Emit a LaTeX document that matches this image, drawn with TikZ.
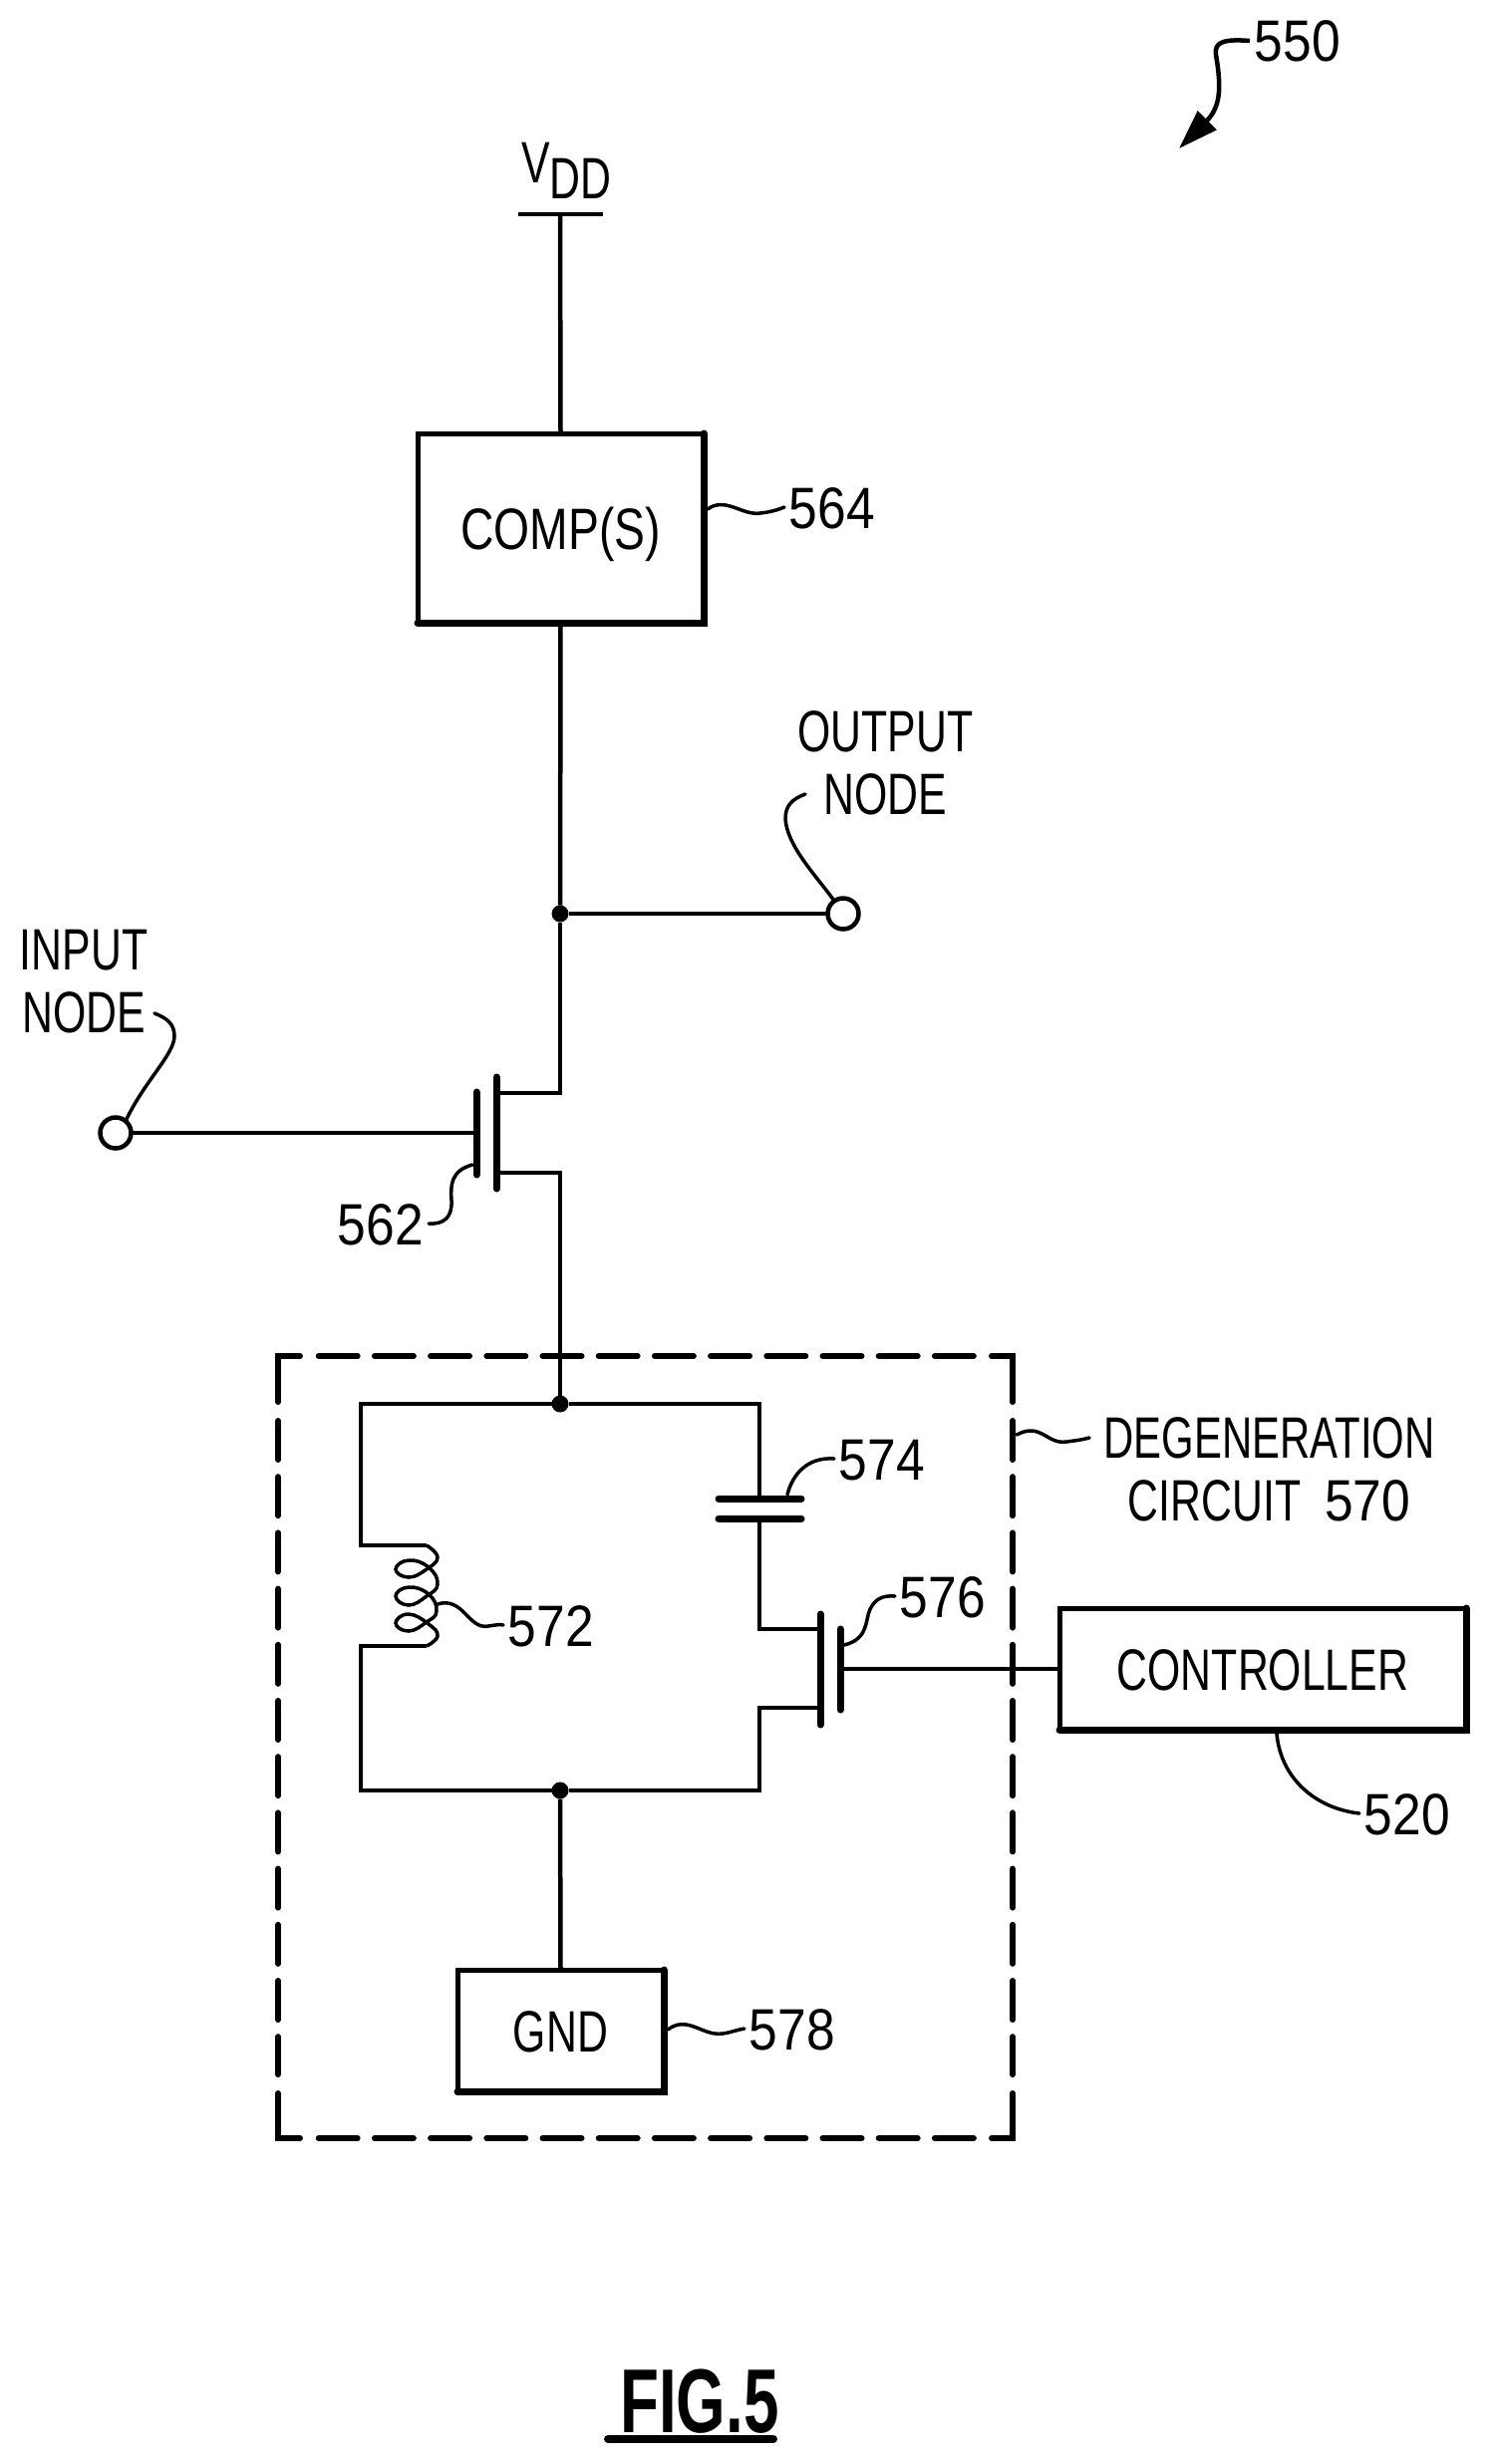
\documentclass[tikz,border=0pt]{standalone}
\usepackage{fontspec}
\usetikzlibrary{arrows.meta}
\newfontfamily\letterfont[FakeStretch=0.73]{Liberation Sans}
\newfontfamily\narrowfont[FakeStretch=0.715]{Liberation Sans}
\newfontfamily\widefont[FakeStretch=0.79]{Liberation Sans}
\newfontfamily\numfont[FakeStretch=0.88]{Liberation Sans}
\newfontfamily\figfont[FakeStretch=0.7]{Liberation Sans Bold}
\tikzset{
	wire/.style={line width=4.5pt},
	plate/.style={line width=7pt, line cap=round},
	heavy/.style={line width=7pt, line cap=round, line join=miter},
	leader/.style={line width=3.5pt, line cap=round},
	block/.style={draw, rectangle, line width=5pt, inner sep=0pt, outer sep=0pt, text height=42pt, text depth=0pt, font=\fontsize{58.6}{63}\letterfont},
	refnum/.style={inner sep=0pt, outer sep=5pt, text height=42pt, text depth=0pt, font=\fontsize{58.6}{63}\numfont},
	caption/.style={inner sep=0pt, align=center, font=\fontsize{58.6}{63}\letterfont},
	terminal/.style={draw, circle, line width=4.5pt, inner sep=0pt, outer sep=0pt, minimum size=31pt, fill=white},
	junction/.style={circle, fill=black, inner sep=0pt, outer sep=0pt, minimum size=17pt},
	dashside/.style={line width=6pt, line cap=round, dash pattern=on 39pt off 17.2pt},
	dashcorner/.style={line width=6pt, line cap=round, line join=miter},
}

\begin{document}
\begin{tikzpicture}[x=1pt, y=-1pt]
	\useasboundingbox (0,0) rectangle (1494,2473);

	\node (vdd) [inner sep=0pt, anchor=base west, font=\fontsize{58.6}{63}\letterfont] at (523,183) {V\raisebox{-16pt}{DD}};
	\coordinate (vddl) at (520,215);
	\coordinate (vddr) at (605,215);
	\coordinate (vddw) at (562,215);

	\node (comp) [block, minimum width=287pt, minimum height=190pt, font=\fontsize{58.6}{63}\widefont] at (562.5,530) {COMP(S)};
	\node (ctrl) [block, minimum width=408pt, minimum height=122pt] at (1267,1675) {CONTROLLER};
	\node (gnd) [block, minimum width=207pt, minimum height=122pt] at (562.5,2038) {GND};

	\node (outdot) [junction] at (562,917) {};
	\node (topdot) [junction] at (562,1409) {};
	\node (botdot) [junction] at (562,1797) {};
	\node (outterm) [terminal] at (846,917) {};
	\node (interm) [terminal] at (116,1137) {};

	\node (outtext) [caption] at (888.5,765.5) {OUTPUT\\NODE};
	\node (intext) [caption] at (84,985) {INPUT\\NODE};
	\node (degtext) [caption] at (1273.5,1475) {{\narrowfont DEGENERATION}\\CIRCUIT\ \ {\numfont 570}};

	\node (n550) [refnum] at (1302,41) {550};
	\node (n564) [refnum] at (835,509) {564};
	\node (n562) [refnum] at (382,1228) {562};
	\node (n574) [refnum] at (885,1464) {574};
	\node (n576) [refnum] at (946,1602) {576};
	\node (n572) [refnum] at (553,1631) {572};
	\node (n578) [refnum] at (795,2036) {578};
	\node (n520) [refnum] at (1412,1820) {520};

	\node (figlabel) [inner sep=0pt, text height=65pt, text depth=0pt, font=\fontsize{91}{95}\figfont] at (702,2408.5) {FIG.5};
	\coordinate (figl) at (610,2448);
	\coordinate (figr) at (776,2448);

	% transistor 562
	\coordinate (g1a) at (478,1096);
	\coordinate (g1b) at (478,1179);
	\coordinate (g1m) at (478,1137);
	\coordinate (c1a) at (498,1081);
	\coordinate (c1b) at (498,1193);
	\coordinate (c1d) at (498,1097);
	\coordinate (c1s) at (498,1177);
	\coordinate (w1d) at (562,1097);
	\coordinate (w1s) at (562,1177);

	% capacitor 574
	\coordinate (cap1l) at (721,1504);
	\coordinate (cap1r) at (804,1504);
	\coordinate (cap2l) at (721,1524);
	\coordinate (cap2r) at (804,1524);
	\coordinate (cap1w) at (762,1504);
	\coordinate (cap2w) at (762,1524);

	% transistor 576
	\coordinate (c2a) at (823,1620);
	\coordinate (c2b) at (823,1731);
	\coordinate (c2d) at (823,1635);
	\coordinate (c2s) at (823,1714);
	\coordinate (g2a) at (843,1635);
	\coordinate (g2b) at (843,1716);
	\coordinate (g2m) at (843,1675);
	\coordinate (w2d) at (762,1635);
	\coordinate (w2s) at (762,1714);

	% inductor 572
	\coordinate (ltop) at (428,1551);
	\coordinate (lbot) at (428,1652);
	\coordinate (ltopw) at (362,1551);
	\coordinate (lbotw) at (362,1652);

	\coordinate (degl) at (1093,1443);
	\coordinate (inl) at (155,1017);
	\coordinate (outl) at (808,797);

	\begin{scope}[wire]
		\draw (vddl) -- (vddr);
		\draw (vddw) -- (comp.north);
		\draw (comp.south) -- (outdot);
		\draw (outdot) -- (w1d) -- (c1d);
		\draw (outdot) -- (outterm);
		\draw (interm) -- (g1m);
		\draw (c1s) -- (w1s) -- (topdot);
		\draw (topdot) -| (ltopw) -- (ltop);
		\draw (lbot) -- (lbotw) |- (botdot);
		\draw (topdot) -| (cap1w);
		\draw (cap2w) -- (w2d) -- (c2d);
		\draw (c2s) -- (w2s) |- (botdot);
		\draw (botdot) -- (gnd.north);
		\draw (g2m) -- (ctrl.west);
		\draw[line width=3.5pt] plot[smooth, tension=0.8] coordinates {(ltop) (439,1563) (428,1575) (410,1583) (397,1575) (410,1566) (430,1573) (439,1590) (428,1602) (410,1611) (397,1602) (410,1593) (430,1600) (438,1617) (428,1628) (410,1637) (397,1629) (410,1620) (430,1630) (439,1642) (lbot)};
	\end{scope}

	\begin{scope}[plate]
		\draw (g1a) -- (g1b);
		\draw (c1a) -- (c1b);
		\draw (cap1l) -- (cap1r);
		\draw (cap2l) -- (cap2r);
		\draw (c2a) -- (c2b);
		\draw (g2a) -- (g2b);
	\end{scope}

	\draw[heavy] (comp.north east) -- (comp.south east) -- (comp.south west);
	\draw[heavy] (ctrl.north east) -- (ctrl.south east) -- (ctrl.south west);
	\draw[heavy] (gnd.north east) -- (gnd.south east) -- (gnd.south west);
	\draw[line width=8pt, line cap=round] (figl) -- (figr);

	% dashed box 570, corners drawn solid
	\draw[dashcorner] (279,1407) -- (279,1361) -- (301,1361);
	\draw[dashcorner] (995,1361) -- (1016,1361) -- (1016,1407);
	\draw[dashcorner] (1016,2101) -- (1016,2146) -- (995,2146);
	\draw[dashcorner] (301,2146) -- (279,2146) -- (279,2101);
	\draw[dashside] (319.7,1361) -- (977,1361);
	\draw[dashside] (319.7,2146) -- (977,2146);
	\draw[dashside] (279,1426) -- (279,2082);
	\draw[dashside] (1016,1426) -- (1016,2082);

	\begin{scope}[leader]
		\draw (comp.east |- n564.west) ++(4,2) .. controls (728,498) and (745,518) .. (763,515) .. controls (772,514) and (780,512) .. (n564.west);
		\draw (474,1169) .. controls (452,1175) and (452,1190) .. (453,1205) .. controls (454,1222) and (445,1229) .. (n562.east);
		\draw (790,1500) .. controls (795,1480) and (810,1462) .. (n574.west);
		\draw (847,1651) .. controls (872,1645) and (868,1625) .. (873,1615) .. controls (878,1605) and (885,1601) .. (n576.west);
		\draw (439,1610) .. controls (465,1602) and (470,1636) .. (490,1632) .. controls (497,1631) and (502,1630) .. (n572.west);
		\draw (gnd.east |- n578.west) ++(4,1) .. controls (690,2022) and (705,2044) .. (725,2041) .. controls (733,2040) and (740,2037) .. (n578.west);
		\draw (1281,1740) .. controls (1285,1785) and (1320,1815) .. (n520.west);
		\draw (1020,1440) .. controls (1045,1427) and (1050,1450) .. (1070,1447) .. controls (1078,1446) and (1086,1445) .. (degl);
		\draw (interm.50) .. controls (145,1085) and (175,1058) .. (175,1040) .. controls (175,1028) and (168,1022) .. (inl);
		\draw (outterm.125) .. controls (820,880) and (790,850) .. (788,822) .. controls (788,808) and (795,802) .. (outl);
	\end{scope}

	\draw[line width=4.5pt, -{Triangle[length=40pt, width=26pt]}] (n550.west) .. controls (1228,39) and (1218,42) .. (1220,55) .. controls (1226,90) and (1224,108) .. (1183,149);
\end{tikzpicture}
\end{document}
